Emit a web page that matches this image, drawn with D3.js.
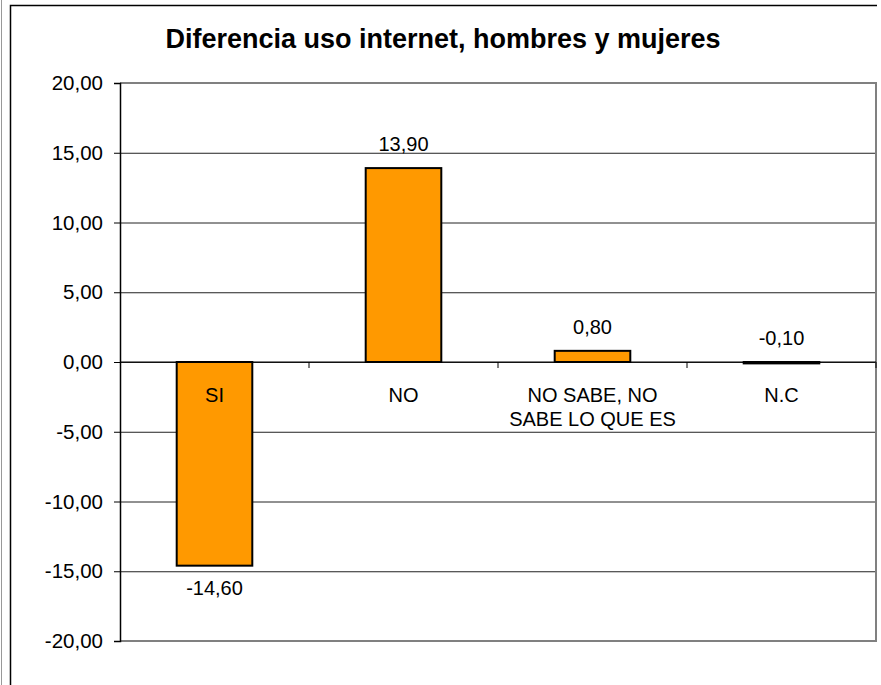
<!DOCTYPE html>
<html>
<head>
<meta charset="utf-8">
<script src="https://cdn.jsdelivr.net/npm/d3@7"></script>
<style>
  body { margin: 0; background: #fff; }
  text { font-family: Arial, "Liberation Sans", sans-serif; fill: #000; }
</style>
</head>
<body>
<div id="chart"></div>
<script>
const title = "Diferencia uso internet, hombres y mujeres";
const categories = ["SI", "NO", "NO SABE, NO SABE LO QUE ES", "N.C"];
const categoryLines = [["SI"], ["NO"], ["NO SABE, NO", "SABE LO QUE ES"], ["N.C"]];
const values = [-14.60, 13.90, 0.80, -0.10];
const yTicks = [-20, -15, -10, -5, 0, 5, 10, 15, 20];

const WIDTH = 881, HEIGHT = 685;
const plot = { left: 120, right: 876, top: 83, bottom: 641 };
const FONT = "Arial, 'Liberation Sans', sans-serif";

const fmt = d3.formatLocale({ decimal: ",", thousands: ".", grouping: [3], currency: ["", ""], minus: "-" }).format(".2f");

const svg = d3.select("#chart")
    .append("svg")
      .attr("width", WIDTH)
      .attr("height", HEIGHT);

// outer frames
svg.append("line")
    .attr("x1", 1.5).attr("x2", 1.5).attr("y1", 0).attr("y2", HEIGHT)
    .attr("stroke", "#999").attr("stroke-width", 1);
svg.append("path")
    .attr("d", `M10.5,${HEIGHT} V5.5 H877`)
    .attr("fill", "none").attr("stroke", "#000").attr("stroke-width", 1.5);

svg.append("text")
    .attr("x", 443).attr("y", 48)
    .attr("text-anchor", "middle")
    .attr("font-weight", "bold")
    .attr("font-size", 27)
    .text(title);

const x = d3.scaleBand().domain(categories).range([plot.left, plot.right]).padding(0);
const y = d3.scaleLinear().domain([-20, 20]).range([plot.bottom, plot.top]);

// gridlines
svg.append("g")
    .attr("transform", `translate(${plot.left}, 0)`)
    .call(d3.axisLeft(y).tickValues(yTicks).tickSize(-(plot.right - plot.left)).tickFormat(""))
    .call(g => g.select(".domain").remove())
    .call(g => g.selectAll("line").attr("stroke", "#222"));

// plot border
svg.append("path")
    .attr("d", `M${plot.left},${plot.top} H${plot.right} V${plot.bottom} H${plot.left}`)
    .attr("fill", "none").attr("stroke", "#808080").attr("stroke-width", 2);

// y axis
svg.append("g")
    .attr("transform", `translate(${plot.left}, 0)`)
    .call(d3.axisLeft(y).tickValues(yTicks).tickSize(6).tickPadding(11).tickFormat(fmt))
    .call(g => g.select(".domain").attr("stroke", "#000").attr("stroke-width", 1.5))
    .call(g => g.selectAll("line").attr("stroke", "#000"))
    .call(g => g.selectAll("text").attr("font-size", 20.5).attr("font-family", FONT));

// bars
const barW = x.bandwidth() * 0.4;
svg.selectAll("rect.bar")
    .data(values)
    .join("rect")
      .attr("class", "bar")
      .attr("x", (d, i) => x(categories[i]) + (x.bandwidth() - barW) / 2)
      .attr("y", d => y(Math.max(0, d)))
      .attr("width", barW)
      .attr("height", d => Math.abs(y(d) - y(0)))
      .attr("fill", "#FF9900")
      .attr("stroke", "#000")
      .attr("stroke-width", 2);

// zero axis with ticks at category boundaries
svg.append("line")
    .attr("x1", plot.left).attr("x2", plot.right)
    .attr("y1", y(0)).attr("y2", y(0))
    .attr("stroke", "#000").attr("stroke-width", 1.2);
svg.selectAll("line.xtick")
    .data(categories)
    .join("line")
      .attr("class", "xtick")
      .attr("x1", d => x(d) + x.bandwidth()).attr("x2", d => x(d) + x.bandwidth())
      .attr("y1", y(0)).attr("y2", y(0) + 6)
      .attr("stroke", "#000");

// category labels
svg.selectAll("text.cat")
    .data(categoryLines)
    .join("text")
      .attr("class", "cat")
      .attr("text-anchor", "middle")
      .attr("font-size", 20)
      .attr("y", y(0) + 40)
      .selectAll("tspan")
      .data((lines, i) => lines.map(l => ({ l, c: categories[i] })))
      .join("tspan")
        .attr("x", d => x(d.c) + x.bandwidth() / 2)
        .attr("dy", (d, j) => j === 0 ? 0 : 24)
        .text(d => d.l);

// value labels
svg.selectAll("text.val")
    .data(values)
    .join("text")
      .attr("class", "val")
      .attr("text-anchor", "middle")
      .attr("font-size", 20)
      .attr("x", (d, i) => x(categories[i]) + x.bandwidth() / 2)
      .attr("y", d => d > -1 ? y(Math.max(0, d)) - 17 : y(d) + 29)
      .text(d => fmt(d));
</script>
</body>
</html>
